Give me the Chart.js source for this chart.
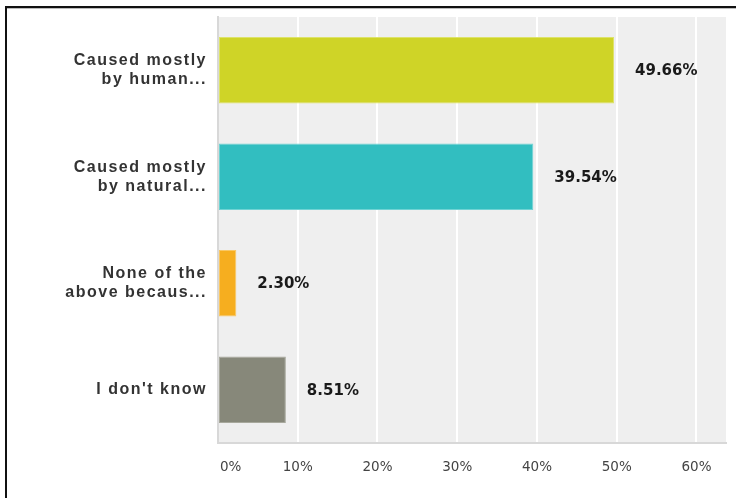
<!DOCTYPE html>
<html>
<head>
<meta charset="utf-8">
<script src="https://cdn.jsdelivr.net/npm/chart.js@4"></script>
<style>
  body { margin: 0; background: #fff; }
  #wrap { position: relative; width: 736px; height: 498px; overflow: hidden; }
  #frame {
    position: absolute; left: 5px; top: 6px; width: 800px; height: 600px;
    border-top: 2px solid #111; border-left: 2px solid #111;
    box-shadow: inset 0 1px 0 #bbb;
    pointer-events: none;
  }
  canvas { position: absolute; left: 0; top: 0; }
</style>
</head>
<body>
<div id="wrap">
  <canvas id="chart" width="736" height="498"></canvas>
  <div id="frame"></div>
</div>
<script>
// answer choices (shown truncated, as in the survey chart)
const categories = [
  ["Caused mostly", "by human..."],
  ["Caused mostly", "by natural..."],
  ["None of the", "above becaus..."],
  ["I don't know"],
];

// share of responses, percent
const responses = [49.66, 39.54, 2.30, 8.51];

const barColors = ["#cfd427", "#32bec0", "#f6ae1f", "#87887a"];
const barEdges = ["#dde36a", "#6fd3d4", "#f9c866", "#a7a89c"];

const tickValues = [0, 10, 20, 30, 40, 50, 60];
const axisMax = 63.7;

// grey background behind the plot; wider spacing for the category labels
const plotBg = {
  id: "plotBg",
  beforeUpdate(chart) {
    chart.ctx.letterSpacing = "1.5px";
  },
  beforeDraw(chart) {
    const { ctx, chartArea: a } = chart;
    ctx.letterSpacing = "1.5px";
    ctx.save();
    ctx.fillStyle = "#efefef";
    ctx.fillRect(a.left, a.top, a.right - a.left, a.bottom - a.top);
    ctx.restore();
  },
};

// percent labels next to bars and x tick labels
const labels = {
  id: "labels",
  afterDatasetsDraw(chart) {
    const ctx = chart.ctx;
    const meta = chart.getDatasetMeta(0);
    ctx.save();
    ctx.letterSpacing = "0px";
    ctx.font = "bold 15px 'DejaVu Sans'";
    ctx.fillStyle = "#1a1a1a";
    ctx.textAlign = "left";
    ctx.textBaseline = "middle";
    meta.data.forEach((bar, i) => {
      ctx.fillText(responses[i].toFixed(2) + "%", bar.x + 21, bar.y + 1);
    });

    const xs = chart.scales.x;
    ctx.font = "13.5px 'DejaVu Sans'";
    ctx.fillStyle = "#444";
    tickValues.forEach((v) => {
      const px = xs.getPixelForValue(v);
      if (v === 0) {
        ctx.textAlign = "left";
        ctx.fillText(v + "%", px + 2, 467);
      } else {
        ctx.textAlign = "center";
        ctx.fillText(v + "%", px, 467);
      }
    });
    ctx.restore();
  },
};

new Chart(document.getElementById("chart"), {
  type: "bar",
  plugins: [plotBg, labels],
  data: {
    labels: categories,
    datasets: [
      {
        data: responses,
        backgroundColor: barColors,
        borderColor: barEdges,
        borderWidth: 1,
        borderSkipped: false,
        barPercentage: 0.625,
        categoryPercentage: 1,
      },
    ],
  },
  options: {
    indexAxis: "y",
    responsive: false,
    animation: false,
    layout: { padding: { left: 0, top: 17, right: 10, bottom: 0 } },
    plugins: {
      legend: { display: false },
      tooltip: { enabled: false },
    },
    scales: {
      x: {
        min: 0,
        max: axisMax,
        afterFit: (scale) => {
          scale.height = 55;
          scale.paddingLeft = 0;
          scale.paddingRight = 0;
        },
        afterBuildTicks: (scale) => {
          scale.ticks = tickValues.map((v) => ({ value: v }));
        },
        ticks: { display: false, stepSize: 10 },
        grid: { color: "#ffffff", lineWidth: 2, drawTicks: false },
        border: { color: "#d8d8d8", width: 2 },
      },
      y: {
        afterFit: (scale) => {
          scale.width = 218;
          scale.paddingTop = 0;
          scale.paddingBottom = 0;
        },
        ticks: {
          color: "#333",
          padding: 11,
          font: { family: "'Liberation Sans'", size: 16, weight: "bold", lineHeight: 1.2 },
        },
        grid: { display: false, drawTicks: false },
        border: { color: "#d8d8d8", width: 2 },
      },
    },
  },
});
</script>
</body>
</html>
